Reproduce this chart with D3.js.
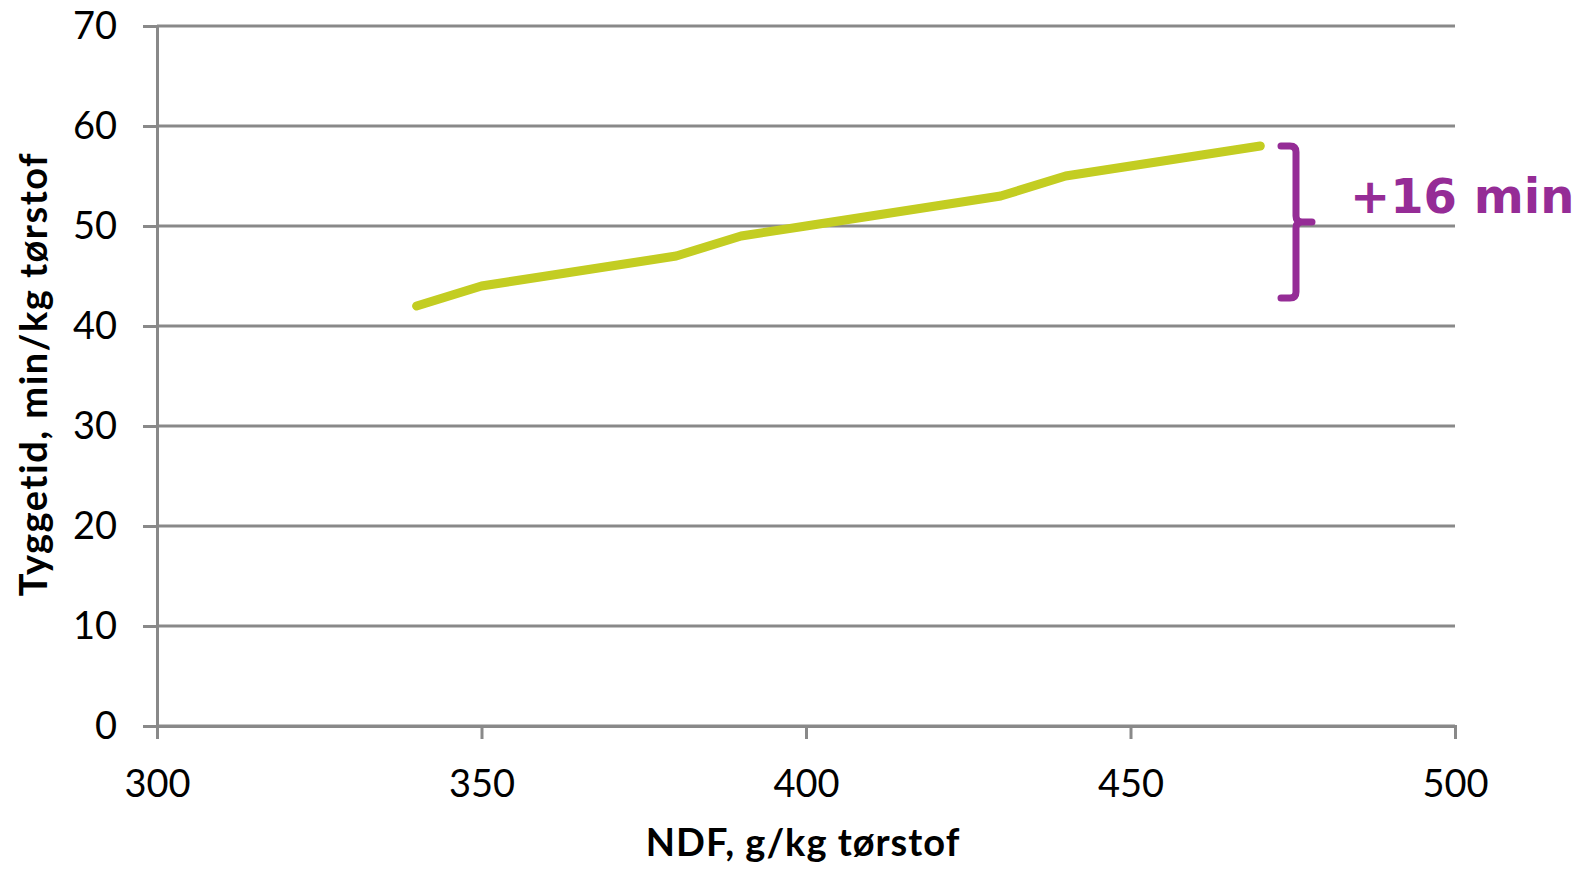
<!DOCTYPE html>
<html>
<head>
<meta charset="utf-8">
<script src="https://cdn.jsdelivr.net/npm/d3@7"></script>
<style>
  body { margin: 0; background: #fff; }
  svg text { fill: #000; }
</style>
</head>
<body>
<div id="chart"></div>
<script>
// NDF vs chewing time
const ndf = [340, 350, 360, 370, 380, 390, 400, 410, 420, 430, 440, 450, 460, 470];
const tyggetid = [42, 44, 45, 46, 47, 49, 50, 51, 52, 53, 55, 56, 57, 58];
const xTicks = [300, 350, 400, 450, 500];
const yTicks = [0, 10, 20, 30, 40, 50, 60, 70];
const bracketRange = [42.8, 58];
const bracketX = 475.5;
const bracketLabel = "+16 min";

const W = 1586, H = 872;
const margin = { top: 26, right: 131, bottom: 146, left: 157 };

const svg = d3.select("#chart")
  .append("svg")
  .attr("width", W)
  .attr("height", H);

const x = d3.scaleLinear().domain([300, 500]).range([margin.left, W - margin.right]);
const y = d3.scaleLinear().domain([0, 70]).range([H - margin.bottom, margin.top]);

const grey = "#898989";

// horizontal gridlines
svg.append("g")
  .selectAll("line")
  .data(yTicks)
  .enter().append("line")
  .attr("x1", x(300))
  .attr("x2", x(500))
  .attr("y1", d => y(d))
  .attr("y2", d => y(d))
  .attr("stroke", grey)
  .attr("stroke-width", 3);

// y axis
const yAxis = svg.append("g")
  .attr("transform", `translate(${x(300)},0)`)
  .call(d3.axisLeft(y).tickValues(yTicks).tickSize(14).tickPadding(26));
yAxis.select(".domain").attr("stroke", grey).attr("stroke-width", 3);
yAxis.selectAll(".tick line").attr("stroke", grey).attr("stroke-width", 3);
yAxis.selectAll(".tick text")
  .style("font-family", "Lato, 'Open Sans', sans-serif")
  .style("font-size", "38px")
  .attr("fill", "#000");

// x axis
const xAxis = svg.append("g")
  .attr("transform", `translate(0,${y(0)})`)
  .call(d3.axisBottom(x).tickValues(xTicks).tickSize(13).tickPadding(31));
xAxis.select(".domain").attr("stroke", grey).attr("stroke-width", 3);
xAxis.selectAll(".tick line").attr("stroke", grey).attr("stroke-width", 3);
xAxis.selectAll(".tick text")
  .style("font-family", "Lato, 'Open Sans', sans-serif")
  .style("font-size", "38px")
  .attr("fill", "#000");

// axis titles
svg.append("text")
  .attr("x", 803)
  .attr("y", 856)
  .attr("text-anchor", "middle")
  .style("font-family", "Lato, 'Open Sans', sans-serif")
  .style("font-weight", "bold")
  .style("font-size", "38px")
  .style("letter-spacing", "1px")
  .text("NDF, g/kg tørstof");

svg.append("text")
  .attr("transform", `translate(47,374) rotate(-90)`)
  .attr("text-anchor", "middle")
  .style("font-family", "Lato, 'Open Sans', sans-serif")
  .style("font-weight", "bold")
  .style("font-size", "38px")
  .style("letter-spacing", "1.5px")
  .text("Tyggetid, min/kg tørstof");

// data line
const line = d3.line()
  .x((d, i) => x(ndf[i]))
  .y(d => y(d));

svg.append("path")
  .datum(tyggetid)
  .attr("d", line)
  .attr("fill", "none")
  .attr("stroke", "#C3CD22")
  .attr("stroke-width", 9)
  .attr("stroke-linecap", "round")
  .attr("stroke-linejoin", "round");

// bracket annotation
const purple = "#952C96";
const bx = x(bracketX);
const yTop = y(bracketRange[1]);
const yBot = y(bracketRange[0]);
const yMid = (yTop + yBot) / 2;
const r = 6;
const bracketPath = d3.path();
bracketPath.moveTo(bx - 15, yTop);
bracketPath.lineTo(bx - r, yTop);
bracketPath.quadraticCurveTo(bx, yTop, bx, yTop + r);
bracketPath.lineTo(bx, yMid - r);
bracketPath.quadraticCurveTo(bx, yMid, bx + r, yMid);
bracketPath.lineTo(bx + 16, yMid);
bracketPath.moveTo(bx + r, yMid);
bracketPath.quadraticCurveTo(bx, yMid, bx, yMid + r);
bracketPath.lineTo(bx, yBot - r);
bracketPath.quadraticCurveTo(bx, yBot, bx - r, yBot);
bracketPath.lineTo(bx - 15, yBot);

svg.append("path")
  .attr("d", bracketPath.toString())
  .attr("fill", "none")
  .attr("stroke", purple)
  .attr("stroke-width", 7)
  .attr("stroke-linecap", "round");

svg.append("text")
  .attr("x", bx + 54)
  .attr("y", yMid - 9)
  .style("font-family", "'DejaVu Sans', Verdana, sans-serif")
  .style("font-weight", "bold")
  .style("font-size", "48px")
  .style("fill", purple)
  .text(bracketLabel);
</script>
</body>
</html>
